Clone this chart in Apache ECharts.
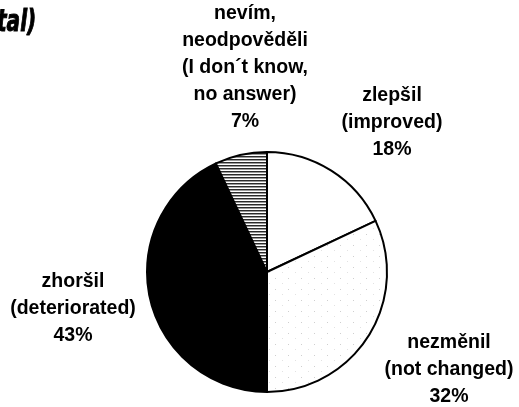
<!DOCTYPE html>
<html>
<head>
<meta charset="utf-8">
<script src="https://cdn.jsdelivr.net/npm/echarts@6/dist/echarts.min.js"></script>
<style>
  html, body { margin: 0; padding: 0; background: #fff; }
  #chart { width: 519px; height: 407px; }
</style>
</head>
<body>
<div id="chart"></div>
<script>
// slices, clockwise from 12 o'clock
var names = ['zlepšil\n(improved)', 'nezměnil\n(not changed)', 'zhoršil\n(deteriorated)', 'nevím,\nneodpověděli\n(I don´t know,\nno answer)'];
var values = [18, 32, 43, 7];

// where each label block is centred (px)
var labelPos = [[392, 123], [449, 370], [73, 309], [245, 68]];

// fill textures
function dotsPattern() {
    var c = document.createElement('canvas');
    c.width = 13; c.height = 11;
    var g = c.getContext('2d');
    g.fillStyle = '#fff';
    g.fillRect(0, 0, 13, 11);
    g.fillStyle = '#cfcfcf';
    g.fillRect(2, 3, 1, 1);
    g.fillStyle = '#e2e2e2';
    g.fillRect(9, 8, 1, 1);
    return c;
}
function hatchPattern() {
    var c = document.createElement('canvas');
    c.width = 4; c.height = 3;
    var g = c.getContext('2d');
    g.fillStyle = '#fff';
    g.fillRect(0, 0, 4, 3);
    g.fillStyle = '#2a2a2a';
    g.fillRect(0, 0, 4, 1);
    g.fillStyle = '#9a9a9a';
    g.fillRect(0, 1, 4, 1);
    return c;
}

var fills = [
    '#ffffff',
    { image: dotsPattern(), repeat: 'repeat' },
    '#000000',
    { image: hatchPattern(), repeat: 'repeat' }
];

var chart = echarts.init(document.getElementById('chart'));

var data = [];
for (var i = 0; i < values.length; i++) {
    data.push({ name: names[i], value: values[i], itemStyle: { color: fills[i] } });
}

chart.setOption({
    backgroundColor: '#fff',
    animation: false,
    graphic: [{
        type: 'text',
        x: -3,
        y: 7,
        scaleX: 0.72,
        style: {
            text: 'tal)',
            font: 'italic bold 31px "DejaVu Sans Condensed", "DejaVu Sans"',
            fill: '#000',
            stroke: '#000',
            lineWidth: 1
        }
    }],
    series: [{
        type: 'pie',
        center: [267, 272],
        radius: 120,
        startAngle: 90,
        clockwise: true,
        label: {
            show: true,
            position: 'outside',
            alignTo: 'none',
            overflow: 'none',
            color: '#000',
            fontFamily: 'Arial, "Liberation Sans", sans-serif',
            fontWeight: 'bold',
            fontSize: 19.5,
            lineHeight: 27,
            align: 'center',
            formatter: function (p) { return p.name + '\n' + p.value + '%'; }
        },
        labelLine: { show: false },
        labelLayout: function (params) {
            var pos = labelPos[params.dataIndex];
            return {
                x: pos[0],
                y: pos[1],
                align: 'center',
                verticalAlign: 'middle'
            };
        },
        itemStyle: {
            borderColor: '#000',
            borderWidth: 2
        },
        emphasis: { disabled: true },
        data: data
    }]
});
</script>
</body>
</html>
